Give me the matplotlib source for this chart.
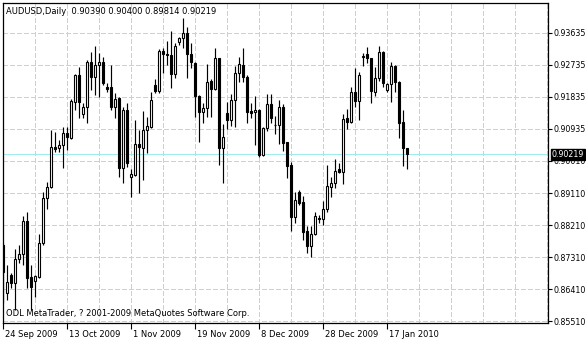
import matplotlib
matplotlib.use('Agg')
import matplotlib.pyplot as plt
import matplotlib.transforms as mtransforms
import numpy as np

plt.rcParams['font.family'] = ['DejaVu Sans']

symbol_title = "AUDUSD,Daily  0.90390 0.90400 0.89814 0.90219"
copyright_text = "ODL MetaTrader, ? 2001-2009 MetaQuotes Software Corp."

opens = [0.87676, 0.86321, 0.86835, 0.86601, 0.87274, 0.87414, 0.88359, 0.86788, 0.86676, 0.86788,
         0.87723, 0.88985, 0.89312, 0.90416, 0.90388, 0.90481, 0.90808, 0.90668, 0.91697, 0.92445,
         0.91351, 0.91538, 0.92819, 0.92379, 0.92725, 0.92819, 0.92099, 0.92099, 0.91557, 0.91790,
         0.89827, 0.91463, 0.89574, 0.89640, 0.90509, 0.90388, 0.90902, 0.90995, 0.92164, 0.91996,
         0.93118, 0.93034, 0.93006, 0.92463, 0.93380, 0.93473, 0.93614, 0.93025, 0.92791, 0.91865,
         0.91416, 0.91510, 0.92277, 0.92052, 0.92912, 0.90388, 0.91388, 0.91182, 0.91743, 0.92492,
         0.92725, 0.92379, 0.91435, 0.91398, 0.91463, 0.90201, 0.90949, 0.91622, 0.91052, 0.91042,
         0.91538, 0.90556, 0.89911, 0.88471, 0.89172, 0.88873, 0.88069, 0.87658, 0.87975, 0.88434,
         0.88415, 0.88677, 0.89312, 0.89406, 0.89799, 0.89715, 0.91248, 0.91117, 0.91977, 0.91725,
         0.92940, 0.93034, 0.92912, 0.91977, 0.92351, 0.93099, 0.92024, 0.92192, 0.92697, 0.92258,
         0.91126, 0.90390]

highs = [0.87723, 0.87115, 0.86882, 0.87555, 0.87676, 0.88490, 0.88602, 0.87115, 0.86835, 0.87985,
         0.89172, 0.89453, 0.90902, 0.90855, 0.90621, 0.90977, 0.90995, 0.91762, 0.92473, 0.92679,
         0.91650, 0.92866, 0.93081, 0.93258, 0.93052, 0.92959, 0.92230, 0.92725, 0.91931, 0.91818,
         0.91557, 0.91650, 0.89799, 0.91182, 0.90902, 0.91435, 0.91257, 0.91977, 0.92333, 0.93174,
         0.93193, 0.93408, 0.93679, 0.93352, 0.93520, 0.94034, 0.93782, 0.93333, 0.92819, 0.91884,
         0.91650, 0.92753, 0.92323, 0.93211, 0.92920, 0.91061, 0.91697, 0.91912, 0.92697, 0.92959,
         0.93193, 0.92445, 0.91650, 0.91856, 0.91482, 0.90977, 0.91903, 0.91903, 0.91295, 0.91743,
         0.91631, 0.90575, 0.90014, 0.89172, 0.89219, 0.89051, 0.88209, 0.88209, 0.88611, 0.88518,
         0.88910, 0.89921, 0.89593, 0.90089, 0.89967, 0.91351, 0.91482, 0.92099, 0.92650, 0.92538,
         0.93071, 0.93221, 0.92931, 0.92660, 0.93258, 0.93127, 0.92211, 0.92819, 0.92725, 0.92277,
         0.91463, 0.90400]

lows = [0.86040, 0.86133, 0.86461, 0.85853, 0.87162, 0.87115, 0.86461, 0.85853, 0.86227, 0.86741,
        0.87676, 0.88677, 0.89266, 0.90294, 0.90294, 0.89827, 0.90341, 0.90640, 0.91463, 0.91229,
        0.91229, 0.91108, 0.92024, 0.91884, 0.91837, 0.92164, 0.91977, 0.91463, 0.91229, 0.89593,
        0.89425, 0.89874, 0.89032, 0.89612, 0.89144, 0.89500, 0.90248, 0.90949, 0.91931, 0.91931,
        0.92492, 0.92725, 0.92071, 0.92351, 0.93286, 0.93193, 0.92351, 0.92632, 0.91276, 0.90575,
        0.91089, 0.91276, 0.91276, 0.92024, 0.89921, 0.89425, 0.90921, 0.91014, 0.90995, 0.92258,
        0.92258, 0.91089, 0.91229, 0.90481, 0.90135, 0.90173, 0.90883, 0.91089, 0.90790, 0.90509,
        0.90322, 0.89546, 0.88078, 0.88284, 0.88798, 0.87816, 0.87443, 0.87349, 0.87957, 0.88303,
        0.88237, 0.88611, 0.89013, 0.89266, 0.89687, 0.89378, 0.90921, 0.91089, 0.91557, 0.91182,
        0.92697, 0.92772, 0.91669, 0.91856, 0.92286, 0.92099, 0.91977, 0.91697, 0.91977, 0.90687,
        0.89902, 0.89814]

closes = [0.86928, 0.86648, 0.86601, 0.87274, 0.87414, 0.88359, 0.86741, 0.86508, 0.86807, 0.87723,
          0.88985, 0.89312, 0.90416, 0.90378, 0.90481, 0.90808, 0.90696, 0.91725, 0.92445, 0.91697,
          0.91538, 0.92819, 0.92398, 0.92725, 0.92819, 0.92230, 0.92043, 0.91557, 0.91762, 0.89827,
          0.91463, 0.89967, 0.89668, 0.90509, 0.90416, 0.90902, 0.91014, 0.91743, 0.91996, 0.93127,
          0.93025, 0.92997, 0.92463, 0.93258, 0.93473, 0.93614, 0.93025, 0.92800, 0.91865, 0.91416,
          0.91510, 0.92239, 0.92052, 0.92912, 0.90388, 0.90696, 0.91182, 0.91743, 0.92492, 0.92744,
          0.92379, 0.91416, 0.91388, 0.91463, 0.90201, 0.90949, 0.91622, 0.91229, 0.91033, 0.91538,
          0.90547, 0.89902, 0.88471, 0.88939, 0.88864, 0.88050, 0.87658, 0.87975, 0.88490, 0.88415,
          0.88677, 0.89331, 0.89425, 0.89752, 0.89715, 0.91210, 0.91136, 0.91977, 0.91725, 0.92445,
          0.92987, 0.92912, 0.92005, 0.92351, 0.93099, 0.92211, 0.92192, 0.92697, 0.92239, 0.91108,
          0.90388, 0.90219]

date_tick_bars = [0, 16, 32, 48, 64, 80, 96]
date_labels = ['24 Sep 2009', '13 Oct 2009', '1 Nov 2009', '19 Nov 2009',
               '8 Dec 2009', '28 Dec 2009', '17 Jan 2010']

price_ticks = [0.93635, 0.92735, 0.91835, 0.90935, 0.90035, 0.89135, 0.88235, 0.87335, 0.86435, 0.85535]
price_labels = ['0.93635', '0.92735', '0.91835', '0.90935', '0.90010',
                '0.89110', '0.88210', '0.87310', '0.86410', '0.85510']
last_price = 0.90219
last_label = '0.90219'

W, H = 586, 340
fig = plt.figure(figsize=(W / 100, H / 100), dpi=100)
fig.patch.set_facecolor('white')
ax = fig.add_axes([3 / W, 17 / H, 545 / W, 320.5 / H])
ax.set_facecolor('white')

o = np.array(opens); h = np.array(highs); l = np.array(lows); c = np.array(closes)
x = np.arange(len(o))
up = c >= o

grid_color = '#9ee4e4'
for gx in np.arange(0, 137, 8):
    ax.axvline(gx, color=grid_color, lw=0.75, dashes=(4, 2.7), zorder=0, antialiased=False)
for gy in price_ticks:
    ax.axhline(gy, color=grid_color, lw=0.75, dashes=(4, 2.7), zorder=0, antialiased=False)

# bid line
ax.axhline(last_price, color='#a0ecec', lw=0.55, zorder=1, antialiased=False)

# candles
ax.vlines(x, l, h, color='black', lw=0.85, zorder=2)
bottoms = np.minimum(o, c)
heights = np.abs(c - o)
ax.bar(x, heights, bottom=bottoms, width=0.5,
       color=np.where(up, 'white', 'black'), edgecolor='black', linewidth=0.8, zorder=3)

ax.set_xlim(-0.08, 136.2)
ax.set_ylim(0.85489, 0.94479)

for s in ax.spines.values():
    s.set_color('black')
    s.set_linewidth(0.9)

ax.yaxis.tick_right()
ax.set_yticks(price_ticks)
ax.set_yticklabels(price_labels)
ax.tick_params(axis='y', length=3, width=0.8, pad=1.0, labelsize=5.7, colors='black')

ax.set_xticks(date_tick_bars)
ax.set_xticklabels(date_labels)
ax.tick_params(axis='x', length=4, width=0.8, pad=1.0, labelsize=6.0, colors='black')
off = mtransforms.ScaledTranslation(2 / 100, 0, fig.dpi_scale_trans)
for lbl in ax.get_xticklabels():
    lbl.set_ha('left')
    lbl.set_transform(lbl.get_transform() + off)

# last price box
trans = mtransforms.blended_transform_factory(ax.transAxes, ax.transData)
ax.text(1.0, last_price, last_label,
        transform=trans + mtransforms.ScaledTranslation(4 / 100, 0, fig.dpi_scale_trans),
        ha='left', va='center', fontsize=5.7, color='white', zorder=10, clip_on=False,
        bbox=dict(boxstyle='square,pad=0.12', facecolor='black', edgecolor='black'))

fig.text(6.5 / W, 1 - 11 / H, symbol_title, ha='left', va='center', fontsize=6.0, color='black')
fig.text(6.5 / W, 1 - 313.5 / H, copyright_text, ha='left', va='center', fontsize=6.0, color='black')

fig.savefig('out.png', dpi=100, facecolor='white')
